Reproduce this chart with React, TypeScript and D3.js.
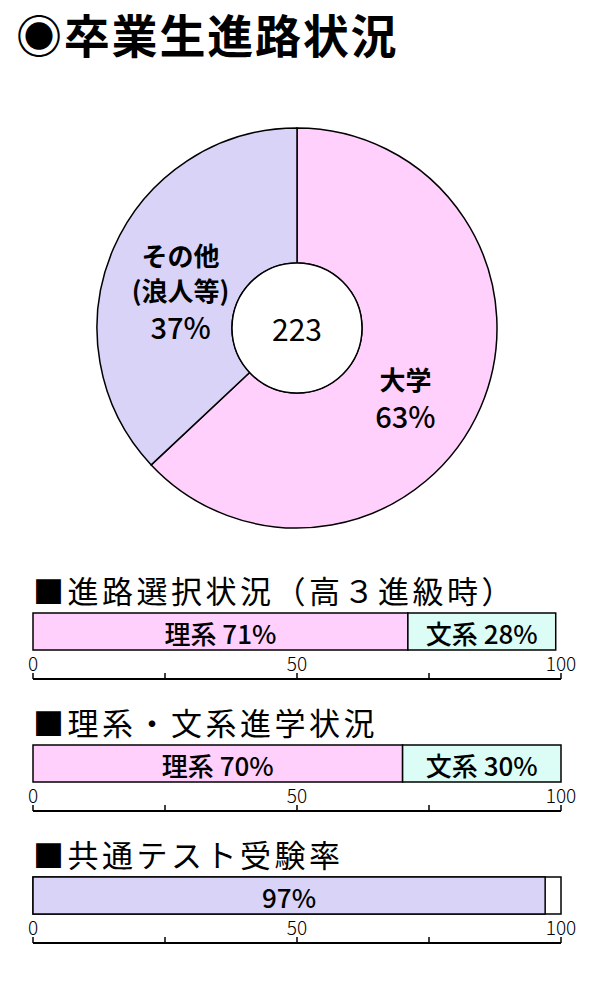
import React from "react";
import * as d3 from "d3";

const titleText = "◉卒業生進路状況";
const pieLabels = [["大学"], ["その他", "(浪人等)"]];
const pieValues = [63, 37];
const pieColors = ["#FFD0FB", "#D9D3F8"];
const totalCount = "223";

const barTitles = ["■進路選択状況（高３進級時）", "■理系・文系進学状況", "■共通テスト受験率"];
const barSeriesNames = [["理系", "文系"], ["理系", "文系"], [""]];
const barSeriesValues = [[71, 28], [70, 30], [97]];
const barSeriesColors = [["#FFD0FB", "#DCFCF6"], ["#FFD0FB", "#DCFCF6"], ["#D9D3F8"]];
const axisTicks = [0, 25, 50, 75, 100];
const axisTickLabels = ["0", "", "50", "", "100"];

const FONT = "'Noto Sans CJK JP', 'Noto Sans', sans-serif";

export default function App() {
  const cx = 297, cy = 328, R = 200, r0 = 65;
  const pie = d3.pie<number>().sort(null).value((d) => d);
  const arcs = pie(pieValues);
  const arc = d3.arc<d3.PieArcDatum<number>>().innerRadius(r0).outerRadius(R);
  const labelArc = d3.arc<d3.PieArcDatum<number>>().innerRadius(128).outerRadius(128);
  const labelShift = [[-9, 18], [1, 13]];

  const x = d3.scaleLinear().domain([0, 100]).range([33, 561]);
  const sectionTop = [613, 745, 877];
  const barH = 37;

  return (
    <svg width={600} height={1000} style={{ position: "absolute", left: 0, top: 0, background: "#fff" }} fontFamily={FONT}>
      <rect width={600} height={1000} fill="#fff" />
      <text x={16} y={33} fontSize={46} fontWeight={700} dominantBaseline="central" letterSpacing={1.8}>{titleText}</text>

      <g transform={`translate(${cx},${cy})`}>
        {arcs.map((a, i) => (
          <path key={i} d={arc(a) || ""} fill={pieColors[i]} stroke="#000" strokeWidth={1.5} />
        ))}
        <circle r={r0} fill="#fff" stroke="#000" strokeWidth={1.5} />
        <text x={0} y={0} textAnchor="middle" dominantBaseline="central" fontSize={30}>{totalCount}</text>
        {arcs.map((a, i) => {
          const [lx, ly] = labelArc.centroid(a);
          const lines = [...pieLabels[i], `${pieValues[i]}%`];
          const px = lx + labelShift[i][0];
          const py = ly + labelShift[i][1];
          const gaps = i === 0 ? [36] : [35, 36];
          const offs = [0];
          gaps.forEach((g) => offs.push(offs[offs.length - 1] + g));
          const mid = offs[offs.length - 1] / 2;
          return (
            <g key={i}>
              {lines.map((t, j) => (
                <text key={j} x={px} y={py + offs[j] - mid} textAnchor="middle" dominantBaseline="central"
                  fontSize={t.endsWith("%") ? 29 : 26} fontWeight={t.endsWith("%") ? 500 : 700}>{t}</text>
              ))}
            </g>
          );
        })}
      </g>

      {barTitles.map((title, s) => {
        const top = sectionTop[s];
        const vals = barSeriesValues[s];
        let acc = 0;
        const segs = vals.map((v, i) => { const seg = { x0: acc, x1: acc + v, v, i }; acc += v; return seg; });
        const axisY = top + barH + 29;
        return (
          <g key={s}>
            <text x={33} y={top - 24} fontSize={31} dominantBaseline="central" letterSpacing={3.5} fontWeight={400}>{title}</text>
            {s === 2 && (
              <rect x={x(0)} y={top} width={x(100) - x(0)} height={barH} fill="#fff" stroke="#000" strokeWidth={1.5} />
            )}
            {segs.map((sg) => (
              <g key={sg.i}>
                <rect x={x(sg.x0)} y={top} width={x(sg.x1) - x(sg.x0)} height={barH} fill={barSeriesColors[s][sg.i]} stroke="#000" strokeWidth={1.5} />
                <text x={(x(sg.x0) + x(sg.x1)) / 2} y={top + barH / 2 + 1} textAnchor="middle" dominantBaseline="central" fontSize={26} fontWeight={500}>
                  {barSeriesNames[s][sg.i] ? `${barSeriesNames[s][sg.i]} ${sg.v}%` : `${sg.v}%`}
                </text>
              </g>
            ))}
            <line x1={x(0)} x2={x(100)} y1={axisY} y2={axisY} stroke="#000" strokeWidth={2} />
            {axisTicks.map((t, k) => (
              <g key={k}>
                <line x1={x(t)} x2={x(t)} y1={axisY} y2={axisY - 6} stroke="#000" strokeWidth={1.5} />
                <text x={x(t)} y={axisY - 17} textAnchor="middle" dominantBaseline="central" fontSize={19} fontWeight={300}>{axisTickLabels[k]}</text>
              </g>
            ))}
          </g>
        );
      })}
    </svg>
  );
}
